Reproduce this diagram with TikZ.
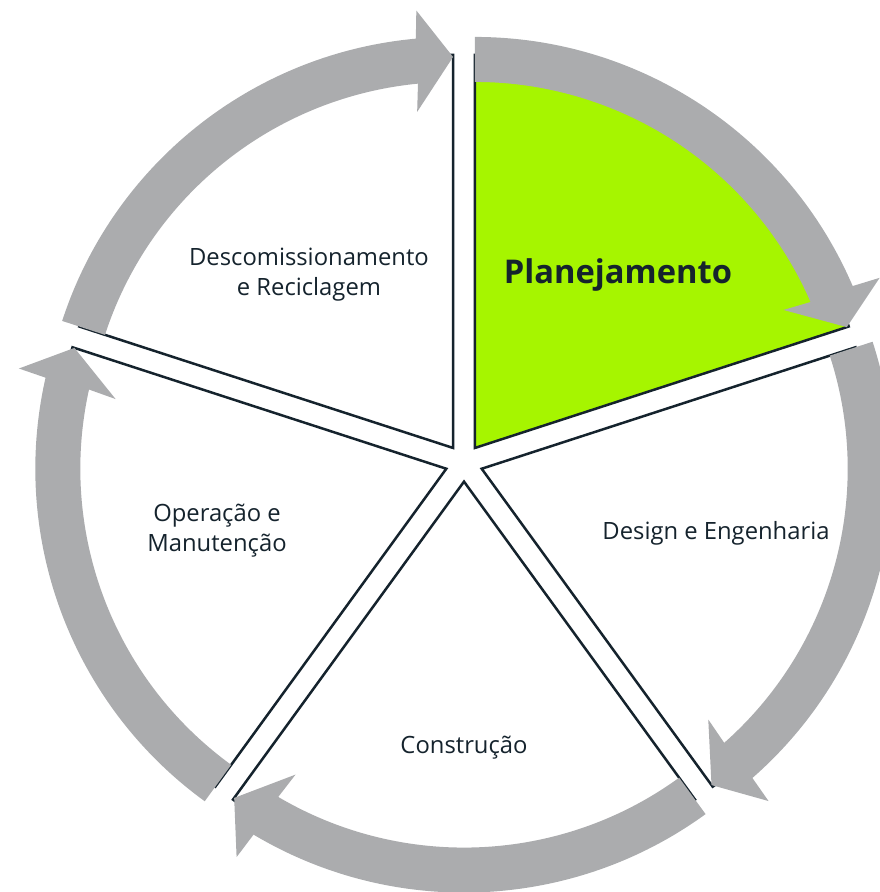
\documentclass[tikz,border=0pt]{standalone}
\usepackage{fontspec}
\setmainfont{Open Sans}
\definecolor{ink}{HTML}{15232D}
\definecolor{bandgray}{HTML}{ABACAE}
\definecolor{lime}{HTML}{A6F500}
\tikzset{
  wedge/.style={draw=ink, line width=2.5pt, miter limit=10},
  band/.style={fill=bandgray},
  lbl/.style={text=ink, font=\fontsize{23.8}{30.3}\selectfont, align=center, anchor=base, inner sep=0pt},
  lblbold/.style={text=ink, font=\fontsize{32.7}{36}\selectfont\bfseries, anchor=base, inner sep=0pt}
}
\begin{document}
\begin{tikzpicture}[x=1pt,y=1pt]
\useasboundingbox (0,0) rectangle (879,892);
\coordinate (C) at (464,429);
% wedges
\foreach \A/\col in {90/lime,18/white,-54/white,-126/white,162/white}{
  \pgfmathsetmacro{\B}{\A-36}
  \pgfmathsetmacro{\E}{\A-72}
  \begin{scope}[shift={(C)}]
   \begin{scope}[shift={(\B:18.6)}]
    \filldraw[wedge, fill=\col] (0,0) -- (\A:393) arc[start angle=\A, end angle=\E, radius=393] -- cycle;
   \end{scope}
  \end{scope}
}
% arrows
\foreach \A in {90,18,-54,-126,162}{
  \pgfmathsetmacro{\B}{\A-36}
  \pgfmathsetmacro{\E}{\A-72}
  \pgfmathsetmacro{\Eo}{\E+5.2}
  \pgfmathsetmacro{\Ei}{\E+5.5}
  \pgfmathsetmacro{\Bo}{\E+4.8}
  \pgfmathsetmacro{\Bi}{\E+6.1}
  \begin{scope}[shift={(C)}]
   \begin{scope}[shift={(\B:18.6)}]
    \fill[band] (\A:411) arc[start angle=\A, end angle=\Eo, radius=411]
      -- (\Bo:439) -- (\E:391) -- (\Bi:338) -- (\Ei:366)
      arc[start angle=\Ei, end angle=\A, radius=366] -- cycle;
   \end{scope}
  \end{scope}
}
% labels
\node[lblbold] (plan) at (618,608.7) {Planejamento};
\node[lbl] (desc) at (309,596) {Descomissionamento\\e Reciclagem};
\node[lbl] (oper) at (217,340.3) {Operação e\\Manutenção};
\node[lbl] (design) at (716,352.7) {Design e Engenharia};
\node[lbl] (constr) at (464,138.7) {Construção};
\end{tikzpicture}
\end{document}
